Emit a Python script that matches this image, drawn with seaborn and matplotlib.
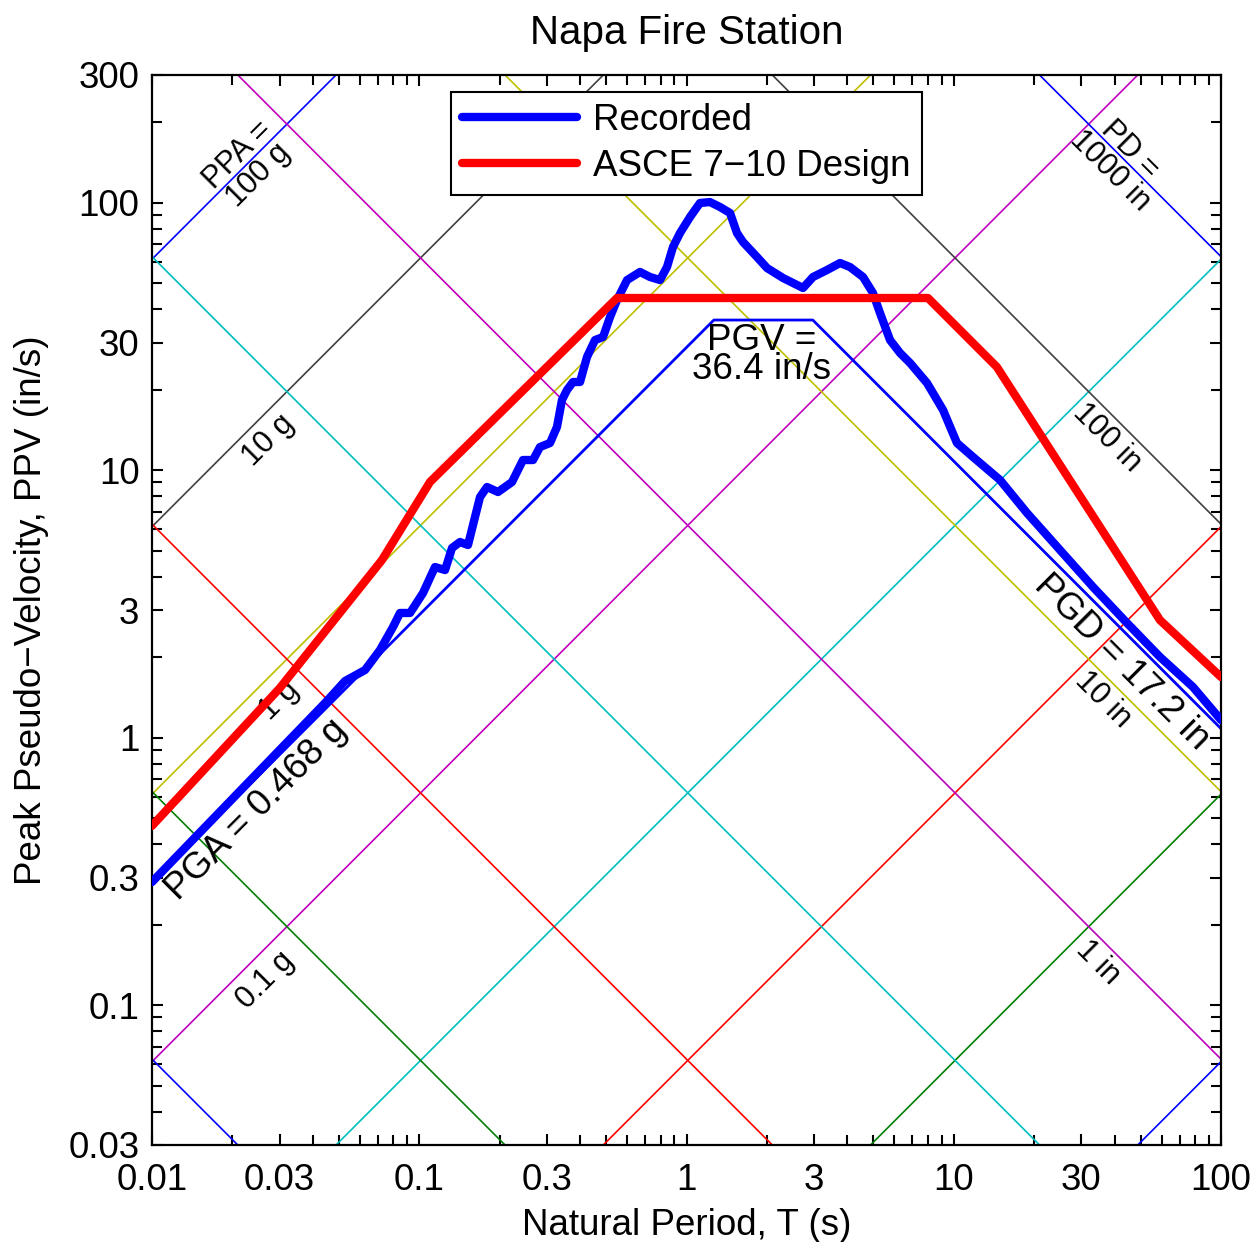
import numpy as np
import pandas as pd
import matplotlib
matplotlib.use("Agg")
import matplotlib.pyplot as plt
import seaborn as sns
from matplotlib.ticker import FixedLocator, FixedFormatter, NullFormatter

# ---------------- data ----------------
rec_T = [0.01, 0.0444, 0.05276, 0.06266, 0.0713, 0.07975, 0.08472, 0.09235, 0.1033, 0.1145,
         0.1249, 0.1326, 0.1421, 0.1522, 0.1688, 0.1793, 0.1971, 0.2224, 0.2444, 0.2665,
         0.283, 0.3085, 0.3276, 0.342, 0.3571, 0.3761, 0.3995, 0.4243, 0.4546, 0.4872,
         0.5175, 0.5496, 0.5991, 0.6699, 0.7302, 0.796, 0.8453, 0.8903, 0.9456, 1.031,
         1.123, 1.224, 1.335, 1.455, 1.545, 1.627, 1.836, 2.001, 2.297, 2.729,
         2.974, 3.355, 3.753, 4.091, 4.576, 4.986, 5.297, 5.776, 6.295, 6.862,
         7.942, 9.118, 10.28, 11.80, 14.90, 18.80, 24.98, 33.20, 44.50, 59.12,
         78.57, 100.0]
rec_psv = [0.2886, 1.347, 1.628, 1.789, 2.126, 2.591, 2.924, 2.924, 3.473, 4.343,
           4.232, 5.116, 5.386, 5.249, 7.933, 8.648, 8.284, 9.029, 10.91, 10.91,
           12.20, 12.63, 14.50, 18.29, 19.93, 21.35, 21.35, 26.48, 30.64, 31.45,
           37.36, 43.25, 51.36, 55.05, 52.72, 51.36, 57.45, 68.27, 76.98, 88.37,
           99.68, 100.5, 96.3, 91.46, 76.98, 71.25, 62.61, 56.96, 52.27, 47.96,
           52.72, 55.99, 59.47, 57.45, 52.72, 45.93, 38.67, 30.64, 27.41, 25.15,
           21.17, 16.78, 12.63, 11.20, 9.186, 6.914, 5.028, 3.657, 2.682, 2.002,
           1.546, 1.164]

des_T = [0.01, 0.0301, 0.0725, 0.1097, 0.5496, 8.01, 14.5, 59.1, 100.0]
des_psv = [0.468, 1.533, 4.61, 9.03, 44.0, 44.0, 24.3, 2.75, 1.685]

PGA_g = 0.468      # g
PGV = 36.4         # in/s
PGD = 17.2         # in
G_IN = 386.09      # in/s^2

acc_levels = [1e-5, 1e-4, 1e-3, 1e-2, 1e-1, 1, 10, 100]          # g
disp_levels = [1e-4, 1e-3, 1e-2, 1e-1, 1, 10, 100, 1000]          # in
cycle = ['b', 'g', 'r', 'c', 'm', 'y', 'k', 'b']
cmap = {'b': (0, 0, 1), 'g': (0, 0.5, 0), 'r': (1, 0, 0), 'c': (0, 0.75, 0.75),
        'm': (0.75, 0, 0.75), 'y': (0.75, 0.75, 0), 'k': (0.25, 0.25, 0.25)}

x_ticks = [0.01, 0.03, 0.1, 0.3, 1, 3, 10, 30, 100]
x_labels = ["0.01", "0.03", "0.1", "0.3", "1", "3", "10", "30", "100"]
y_ticks = [0.03, 0.1, 0.3, 1, 3, 10, 30, 100, 300]
y_labels = ["0.03", "0.1", "0.3", "1", "3", "10", "30", "100", "300"]

# ---------------- figure ----------------
sns.set_style("ticks")
plt.rcParams['font.family'] = ['Liberation Sans', 'DejaVu Sans']
plt.rcParams['axes.unicode_minus'] = True
for k in ('text.color', 'axes.labelcolor', 'xtick.color', 'ytick.color',
          'xtick.labelcolor', 'ytick.labelcolor'):
    plt.rcParams[k] = 'black'

fig = plt.figure(figsize=(12.55, 12.42), dpi=100)
ax = fig.add_axes([152 / 1255, 1 - 1145 / 1242, 1069 / 1255, 1070 / 1242])
ax.set_xscale('log')
ax.set_yscale('log')
ax.set_xlim(0.01, 100)
ax.set_ylim(0.03, 300)

Tend = np.array([0.01, 100.0])
for lvl, c in zip(acc_levels, cycle):
    ax.plot(Tend, lvl * G_IN * Tend / (2 * np.pi), color=cmap[c], lw=1.2, zorder=1)
for lvl, c in zip(disp_levels, cycle):
    ax.plot(Tend, 2 * np.pi * lvl / Tend, color=cmap[c], lw=1.2, zorder=1)

# PGA / PGV / PGD envelope
T1 = PGV * 2 * np.pi / (PGA_g * G_IN)
T2 = 2 * np.pi * PGD / PGV
env_T = np.array([0.01, T1, T2, 100.0])
env_v = np.minimum.reduce([PGA_g * G_IN * env_T / (2 * np.pi),
                           np.full_like(env_T, PGV), 2 * np.pi * PGD / env_T])
ax.plot(env_T, env_v, color=(0, 0, 1), lw=2.0, zorder=2)

df = pd.concat([
    pd.DataFrame({'T': rec_T, 'PSV': rec_psv, 'series': 'Recorded'}),
    pd.DataFrame({'T': des_T, 'PSV': des_psv, 'series': 'ASCE 7\u221210 Design'}),
])
sns.lineplot(data=df, x='T', y='PSV', hue='series',
             palette={'Recorded': (0, 0, 1), 'ASCE 7\u221210 Design': (1, 0, 0)},
             lw=6, sort=False, estimator=None, ax=ax, zorder=4)

# ---------------- annotations ----------------
fs_small = 22
fs_big = 26.5
ax.text(0.02287, 138, "PPA =\n100 g", rotation=45, ha='center', va='center',
        rotation_mode='anchor', fontsize=fs_small, linespacing=0.95, zorder=3)
ax.text(0.02716, 12.93, "10 g", rotation=45, ha='center', va='center',
        rotation_mode='anchor', fontsize=fs_small, zorder=3)
ax.text(0.02987, 1.38, "1 g", rotation=45, ha='center', va='center',
        rotation_mode='anchor', fontsize=fs_small, zorder=3)
ax.text(0.02647, 0.1241, "0.1 g", rotation=45, ha='center', va='center',
        rotation_mode='anchor', fontsize=fs_small, zorder=3)
ax.text(41.9, 144, "PD =\n1000 in", rotation=-45, ha='center', va='center',
        rotation_mode='anchor', fontsize=fs_small, linespacing=0.95, zorder=3)
ax.text(37.4, 13.26, "100 in", rotation=-45, ha='center', va='center',
        rotation_mode='anchor', fontsize=fs_small, zorder=3)
ax.text(36.2, 1.38, "10 in", rotation=-45, ha='center', va='center',
        rotation_mode='anchor', fontsize=fs_small, zorder=3)
ax.text(34.7, 0.1437, "1 in", rotation=-45, ha='center', va='center',
        rotation_mode='anchor', fontsize=fs_small, zorder=3)

ax.text(0.0247, 0.537, "PGA = 0.468 g", rotation=45, ha='center', va='center',
        rotation_mode='anchor', fontsize=fs_big, zorder=5)
ax.text(1.917, 26.9, "PGV =\n36.4 in/s", ha='center', va='center',
        fontsize=fs_big, linespacing=0.8, zorder=5)
ax.text(42.6, 1.915, "PGD = 17.2 in", rotation=-45, ha='center', va='center',
        rotation_mode='anchor', fontsize=fs_big, zorder=5)

# ---------------- axes styling ----------------
ax.xaxis.set_major_locator(FixedLocator(x_ticks))
ax.xaxis.set_major_formatter(FixedFormatter(x_labels))
ax.yaxis.set_major_locator(FixedLocator(y_ticks))
ax.yaxis.set_major_formatter(FixedFormatter(y_labels))
minor = [m * 10.0 ** e for e in range(-3, 3) for m in (2, 4, 5, 6, 7, 8, 9)]
ax.xaxis.set_minor_locator(FixedLocator(minor))
ax.yaxis.set_minor_locator(FixedLocator(minor))
ax.xaxis.set_minor_formatter(NullFormatter())
ax.yaxis.set_minor_formatter(NullFormatter())
ax.tick_params(which='both', direction='in', top=True, right=True,
               color='black', labelcolor='black', width=1.5, labelsize=fs_big)
ax.tick_params(which='major', length=8)
ax.tick_params(axis='x', which='major', pad=13)
ax.tick_params(axis='y', which='major', pad=9)
ax.tick_params(which='minor', length=7)
for s in ax.spines.values():
    s.set_linewidth(1.6)
    s.set_color('black')

ax.set_xlabel("Natural Period, T (s)", fontsize=fs_big, labelpad=7, color='black')
ax.set_ylabel("Peak Pseudo\u2212Velocity, PPV (in/s)", fontsize=fs_big, labelpad=14,
              color='black')
ax.set_title("Napa Fire Station", fontsize=29, pad=22, color='black')

leg = ax.legend(loc='upper center', bbox_to_anchor=(0.5, 0.984), fontsize=fs_big,
                frameon=True, fancybox=False, edgecolor='black', framealpha=1,
                handlelength=3.1, handletextpad=0.45, labelspacing=0.3,
                borderpad=0.3, borderaxespad=0)
leg.get_frame().set_linewidth(1.5)
leg.set_zorder(10)
for t in leg.get_texts():
    t.set_color('black')

fig.savefig("out.png", dpi=100)
